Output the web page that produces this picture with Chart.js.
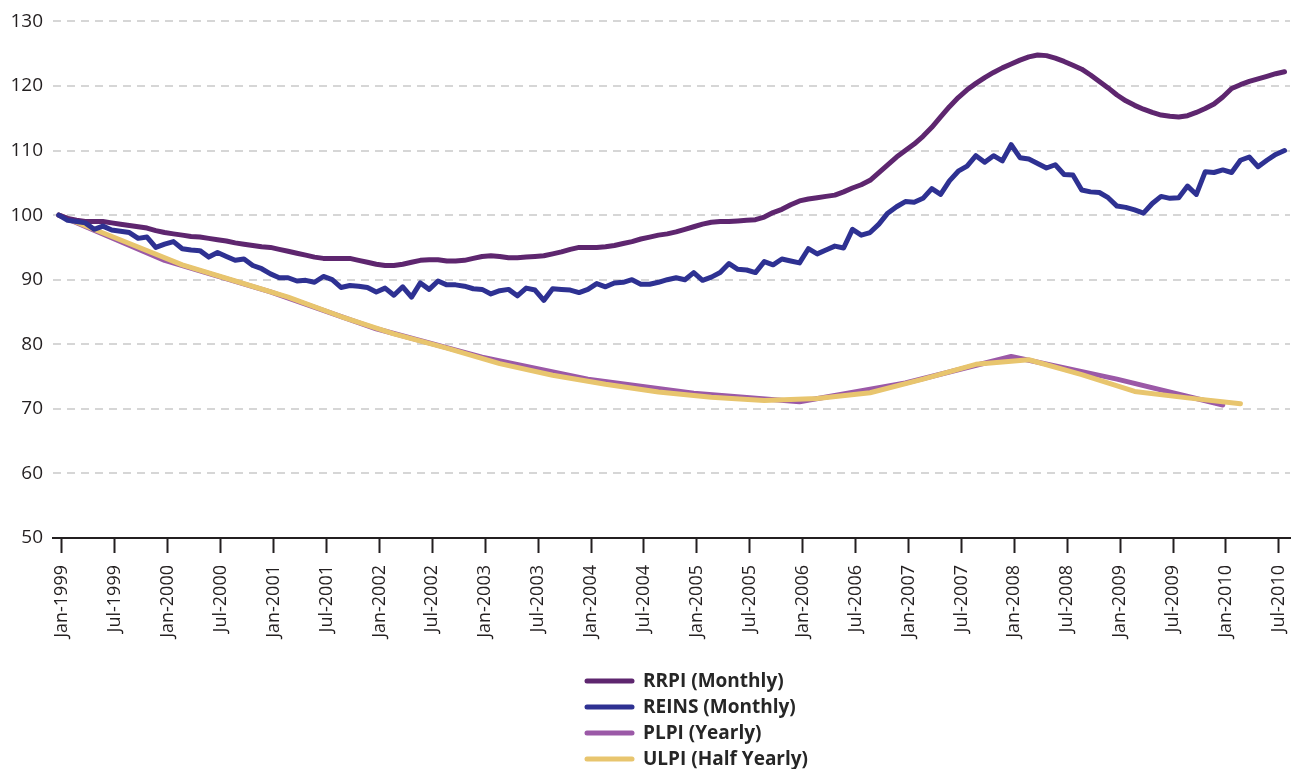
<!DOCTYPE html>
<html><head><meta charset="utf-8">
<script src="https://cdn.jsdelivr.net/npm/chart.js@4/dist/chart.umd.min.js"></script>
<style>html,body{margin:0;padding:0;background:#fff}#wrap{width:1300px;height:769px;position:relative}</style>
</head><body><div id="wrap"><canvas id="c" width="1300" height="769"></canvas></div>
<script>
// Tick labels (every 6 months)
const tickLabels = ['Jan-1999','Jul-1999','Jan-2000','Jul-2000','Jan-2001','Jul-2001','Jan-2002','Jul-2002',
  'Jan-2003','Jul-2003','Jan-2004','Jul-2004','Jan-2005','Jul-2005','Jan-2006','Jul-2006',
  'Jan-2007','Jul-2007','Jan-2008','Jul-2008','Jan-2009','Jul-2009','Jan-2010','Jul-2010'];
const yTicks = [50,60,70,80,90,100,110,120,130];

// Monthly series, Jan-1999 .. Aug-2010 (month index 0..139)
const rrpi = [100.0,99.5,99.2,99.0,99.0,99.0,98.8,98.6,98.4,98.2,98.0,97.6,
  97.3,97.1,96.9,96.7,96.6,96.4,96.2,96.0,95.7,95.5,95.3,95.1,
  95.0,94.7,94.4,94.1,93.8,93.5,93.3,93.3,93.3,93.3,93.0,92.7,
  92.4,92.2,92.2,92.4,92.7,93.0,93.1,93.1,92.9,92.9,93.0,93.3,
  93.6,93.7,93.6,93.4,93.4,93.5,93.6,93.7,94.0,94.3,94.7,95.0,
  95.0,95.0,95.1,95.3,95.6,95.9,96.3,96.6,96.9,97.1,97.4,97.8,
  98.2,98.6,98.9,99.0,99.0,99.1,99.2,99.3,99.7,100.4,100.9,101.6,
  102.2,102.5,102.7,102.9,103.1,103.6,104.2,104.7,105.4,106.6,107.8,109.0,
  110.0,111.0,112.2,113.6,115.2,116.8,118.2,119.4,120.4,121.3,122.1,122.8,
  123.4,124.0,124.5,124.8,124.7,124.3,123.8,123.2,122.6,121.7,120.7,119.7,
  118.6,117.7,117.0,116.4,115.9,115.5,115.3,115.2,115.4,115.9,116.5,117.2,
  118.3,119.6,120.2,120.7,121.1,121.5,121.9,122.2];
const reins = [100.0,99.2,99.0,98.8,97.8,98.3,97.7,97.5,97.3,96.4,96.6,95.0,
  95.5,95.9,94.8,94.6,94.5,93.5,94.2,93.6,93.0,93.2,92.2,91.7,
  90.9,90.3,90.3,89.8,89.9,89.6,90.5,90.0,88.8,89.1,89.0,88.8,
  88.1,88.7,87.6,88.9,87.3,89.5,88.5,89.8,89.2,89.2,89.0,88.6,
  88.5,87.8,88.3,88.5,87.5,88.7,88.4,86.8,88.6,88.5,88.4,88.0,
  88.5,89.4,88.9,89.5,89.6,90.0,89.3,89.3,89.6,90.0,90.3,90.0,
  91.1,89.9,90.4,91.1,92.5,91.6,91.5,91.1,92.8,92.3,93.2,92.9,
  92.6,94.8,94.0,94.6,95.2,94.9,97.8,96.9,97.3,98.6,100.3,101.3,
  102.1,102.0,102.6,104.1,103.2,105.3,106.8,107.6,109.2,108.2,109.2,108.4,
  110.9,108.9,108.7,108.0,107.3,107.8,106.3,106.2,103.9,103.6,103.5,102.7,
  101.4,101.2,100.8,100.3,101.8,102.9,102.6,102.7,104.5,103.2,106.7,106.6,
  107.0,106.6,108.5,109.0,107.5,108.5,109.4,110.0];

// Yearly series (January of each year)
const plpiMonths = [0,12,24,36,48,60,72,84,96,108,120,132];
const plpi = [100.0,93.0,88.1,82.4,78.0,74.6,72.4,71.1,74.0,78.1,74.6,70.6];

// Half-yearly series
const ulpiMonths = [0,2,8,14,20,26,32,38,44,50,56,62,68,74,80,86,92,98,104,110,116,122,128,134];
const ulpi = [100.0,98.9,95.6,92.3,89.8,87.3,84.3,81.6,79.4,77.0,75.2,73.8,72.6,71.8,71.3,71.6,72.5,74.6,76.9,77.6,75.3,72.7,71.7,70.8];

const seriesNames = ['RRPI (Monthly)','REINS (Monthly)','PLPI (Yearly)','ULPI (Half Yearly)'];
const seriesColors = ['#5e266f','#2e3192','#9b59a7','#e8c56e'];

const monthly = vals => vals.map((v,i)=>({x:i,y:v}));
const paired = (xs,vals) => vals.map((v,i)=>({x:xs[i],y:v}));

const TICK_OFFSET = 0.36;
const FONT = '"Open Sans", "Noto Sans", sans-serif';

const legendPlugin = {
  id: 'vlegend',
  afterDraw(chart) {
    const ctx = chart.ctx;
    const x0 = 587, x1 = 632, tx = 643, y0 = 681, dy = 26;
    chart.data.datasets.forEach((ds, k) => {
      const y = y0 + k * dy;
      ctx.save();
      ctx.strokeStyle = ds.borderColor;
      ctx.lineWidth = 5;
      ctx.lineCap = 'round';
      ctx.beginPath(); ctx.moveTo(x0, y); ctx.lineTo(x1, y); ctx.stroke();
      ctx.fillStyle = '#262626';
      ctx.font = 'bold 19px ' + FONT;
      ctx.textBaseline = 'middle';
      ctx.textAlign = 'left';
      ctx.fillText(ds.label, tx, y + 1);
      ctx.restore();
    });
  }
};

const common = {pointRadius:0, borderWidth:5, tension:0, borderCapStyle:'round', borderJoinStyle:'round', fill:false};

new Chart(document.getElementById('c'), {
  type: 'line',
  data: {
    datasets: [
      Object.assign({label: seriesNames[0], data: monthly(rrpi), borderColor: seriesColors[0], order: 1}, common),
      Object.assign({label: seriesNames[1], data: monthly(reins), borderColor: seriesColors[1], order: 0}, common),
      Object.assign({label: seriesNames[2], data: paired(plpiMonths, plpi), borderColor: seriesColors[2], order: 3}, common),
      Object.assign({label: seriesNames[3], data: paired(ulpiMonths, ulpi), borderColor: seriesColors[3], order: 2}, common)
    ]
  },
  options: {
    responsive: false,
    animation: false,
    devicePixelRatio: 1,
    layout: {padding: {top: 6, right: 0, bottom: 121, left: 0}},
    plugins: {legend: {display: false}, tooltip: {enabled: false}},
    scales: {
      x: {
        type: 'linear',
        min: -0.66, max: 139.62,
        afterBuildTicks: s => { s.ticks = tickLabels.map((_, k) => ({value: TICK_OFFSET + 6 * k})); },
        afterFit: s => { s.height = 110; s.paddingRight = 10; },
        grid: {display: true, drawOnChartArea: false, drawTicks: true, tickLength: 15, tickColor: '#231f20', tickWidth: 2},
        border: {display: true, color: '#231f20', width: 2},
        ticks: {autoSkip: false, minRotation: 90, maxRotation: 90, padding: 12, color: '#231f20',
          font: {family: FONT, size: 18},
          callback: (v, i) => tickLabels[i]}
      },
      y: {
        min: 50, max: 130,
        afterBuildTicks: s => { s.ticks = yTicks.map(v => ({value: v})); },
        afterFit: s => { s.width = 53; },
        grid: {drawTicks: false, lineWidth: 2, color: c => (c.tick && c.tick.value === 50) ? 'rgba(0,0,0,0)' : '#d6d6d6'},
        border: {display: false, dash: [8, 6]},
        ticks: {padding: 10, color: '#231f20', font: {family: FONT, size: 19}}
      }
    }
  },
  plugins: [legendPlugin]
});
</script>
</body></html>
